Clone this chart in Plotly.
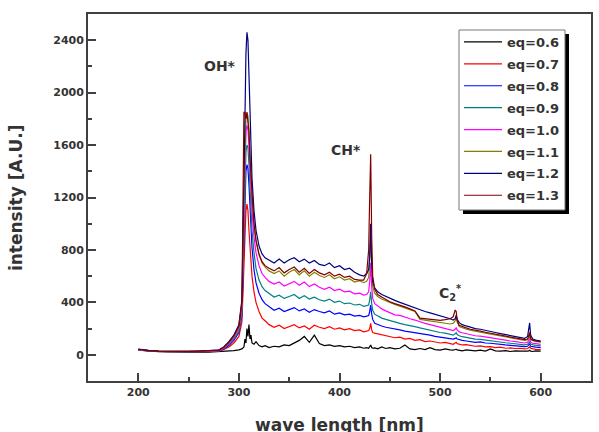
import plotly.graph_objects as go

wavelength = [200, 210, 220, 230, 240, 250, 260, 270, 280,
              285, 290, 295, 300,
              303, 305, 306, 307, 308, 309, 310, 311, 312, 313,
              315, 317, 320, 323, 326, 330,
              335, 340, 345, 350, 355, 360, 365, 370, 375, 380, 385, 390, 395, 400, 405, 410, 415, 420,
              424, 427, 429, 430, 431, 432, 433, 435, 438, 442, 446, 450,
              455, 460, 465, 470, 475, 480, 485, 490, 495, 500, 505, 510,
              513, 515, 516, 517, 519, 522, 526, 530,
              535, 540, 545, 550, 555, 560, 565, 570, 575, 580,
              584, 587, 588, 589, 590, 592, 595, 600]

eq06 = [35, 28, 24, 22, 20, 22, 20, 21, 24,
        25, 28, 32, 38,
        45, 60, 120, 90, 200, 140, 230, 120, 150, 90,
        80, 100, 70, 60, 70, 55,
        65, 60, 75, 70, 90, 110, 140, 95, 150, 85, 70, 75, 65, 70, 60, 65, 55, 60,
        50, 55, 50, 60, 75, 55, 50, 52, 45, 60, 48, 55,
        45, 50, 75, 45, 40, 48, 40, 55, 40, 35, 45, 38,
        35, 40, 42, 38, 35, 30, 38, 32,
        30, 35, 28, 45, 30, 28, 32, 25, 30, 28,
        25, 28, 30, 35, 28, 25, 30, 28]

eq07 = [38, 30, 26, 24, 22, 23, 24, 25, 28,
        40, 60, 90, 140,
        250, 700, 1000, 1100, 1150, 1100, 950, 800, 700, 600,
        480, 400, 330, 280, 260, 230,
        210, 225, 200, 215, 230, 205, 220, 195, 225, 210, 200, 215, 195, 205, 190, 200, 185, 190,
        175, 180, 185, 200, 240, 190, 170, 165, 160, 150, 145, 140,
        130, 135, 120, 125, 110, 115, 100, 105, 95, 90, 95, 85,
        80, 90, 95, 85, 80, 75, 78, 70,
        65, 68, 60, 62, 55, 58, 50, 52, 48, 50,
        45, 48, 55, 60, 50, 45, 42, 40]

eq08 = [40, 30, 27, 25, 23, 24, 25, 26, 30,
        45, 70, 110, 170,
        300, 900, 1250, 1400, 1450, 1420, 1300, 1100, 950, 820,
        650, 550, 470, 420, 390, 370,
        340, 355, 330, 345, 360, 335, 350, 325, 345, 330, 320, 335, 310, 320, 305, 310, 295, 300,
        290, 295, 300, 330, 380, 310, 270, 240, 230, 220, 210, 205,
        195, 190, 180, 175, 170, 160, 155, 150, 140, 135, 130, 125,
        120, 125, 130, 120, 115, 110, 105, 100,
        95, 98, 90, 88, 82, 80, 75, 72, 68, 66,
        62, 65, 75, 85, 65, 60, 58, 55]

eq09 = [38, 29, 26, 24, 24, 23, 25, 27, 30,
        50, 80, 120, 180,
        320, 950, 1350, 1550, 1600, 1580, 1450, 1250, 1100, 950,
        780, 660, 570, 520, 490, 465,
        440, 455, 430, 445, 460, 430, 450, 425, 440, 420, 410, 425, 400, 410, 390, 395, 380, 385,
        370, 375, 380, 420, 480, 390, 340, 310, 295, 280, 270, 260,
        250, 240, 230, 225, 215, 205, 195, 190, 180, 170, 165, 158,
        150, 160, 170, 155, 145, 138, 132, 128,
        120, 118, 112, 108, 102, 98, 92, 88, 84, 80,
        76, 80, 90, 100, 80, 75, 72, 68]

eq10 = [40, 31, 27, 25, 24, 25, 26, 28, 31,
        50, 85, 130, 200,
        350, 1000, 1450, 1700, 1750, 1720, 1600, 1400, 1250, 1100,
        900, 780, 680, 620, 590, 560,
        540, 555, 525, 545, 560, 530, 555, 520, 540, 515, 500, 515, 490, 500, 480, 485, 465, 470,
        455, 460, 480, 560, 700, 520, 430, 390, 370, 350, 335, 320,
        305, 300, 285, 275, 265, 250, 240, 230, 220, 210, 200, 195,
        185, 195, 205, 190, 175, 168, 160, 155,
        145, 142, 135, 130, 122, 118, 110, 105, 100, 95,
        90, 95, 110, 125, 95, 88, 85, 80]

eq11 = [42, 32, 28, 26, 25, 26, 27, 29, 33,
        55, 90, 140, 210,
        380, 1050, 1550, 1800, 1850, 1820, 1700, 1500, 1350, 1200,
        1000, 870, 760, 700, 670, 640,
        620, 640, 600, 630, 650, 610, 640, 600, 630, 605, 590, 610, 580, 595, 570, 580, 555, 565,
        550, 560, 590, 700, 900, 640, 520, 470, 445, 425, 410, 400,
        385, 370, 360, 345, 330, 270, 265, 255, 250, 245, 240, 235,
        240, 260, 300, 250, 215, 205, 195, 188,
        178, 172, 165, 158, 150, 142, 135, 128, 122, 115,
        110, 115, 130, 150, 115, 108, 102, 96]

eq12 = [44, 33, 29, 27, 26, 27, 29, 31, 36,
        60, 100, 150, 230,
        420, 1200, 1800, 2300, 2460, 2400, 2100, 1800, 1550, 1350,
        1100, 950, 830, 770, 740, 720,
        700, 730, 700, 725, 740, 710, 730, 700, 720, 690, 680, 700, 665, 680, 650, 660, 630, 610,
        600, 620, 650, 750, 1000, 700, 560, 510, 480, 460, 445, 430,
        415, 400, 385, 370, 355, 340, 330, 320, 310, 300, 290, 275,
        265, 275, 300, 270, 245, 230, 220, 210,
        200, 195, 185, 178, 170, 162, 155, 145, 138, 130,
        125, 140, 200, 243, 150, 120, 112, 105]

eq13 = [42, 32, 28, 26, 25, 26, 28, 30, 35,
        60, 95, 145, 220,
        400, 1850, 1850, 1800, 1850, 1780, 1700, 1500, 1350, 1200,
        1000, 870, 770, 710, 680, 660,
        640, 665, 625, 650, 670, 630, 660, 620, 650, 625, 610, 630, 600, 615, 590, 600, 575, 570,
        570, 620, 800, 1200, 1530, 900, 600, 500, 460, 440, 420, 405,
        390, 380, 365, 350, 335, 280, 275, 270, 265, 262, 268, 275,
        290, 342, 330, 260, 225, 215, 205, 195,
        185, 180, 172, 165, 157, 150, 142, 135, 128, 120,
        115, 120, 140, 170, 125, 112, 105, 100]

series_names = ["eq=0.6", "eq=0.7", "eq=0.8", "eq=0.9", "eq=1.0", "eq=1.1", "eq=1.2", "eq=1.3"]
series_values = [eq06, eq07, eq08, eq09, eq10, eq11, eq12, eq13]
series_colors = ["#000000", "#ff0000", "#0000ff", "#008080", "#ff00ff", "#808000", "#000080", "#800000"]

x_ticks = [200, 300, 400, 500, 600]
y_ticks = [0, 400, 800, 1200, 1600, 2000, 2400]

FONT = "DejaVu Sans"
AX = "#404040"

fig = go.Figure()
for name, vals, col in zip(series_names, series_values, series_colors):
    fig.add_trace(go.Scatter(x=wavelength, y=vals, mode="lines", name=name,
                             legendgroup=name,
                             line=dict(color=col, width=1.2)))

axis_common = dict(showgrid=False, zeroline=False, showline=True, linecolor=AX, linewidth=1.8,
                   mirror=True, ticks="inside", ticklen=8, tickwidth=1.5, tickcolor=AX,
                   tickfont=dict(family=FONT, size=11, color="#333333", weight="bold"))

fig.update_xaxes(range=[150, 650], tickvals=x_ticks, ticktext=[str(v) for v in x_ticks],
                 minor=dict(dtick=50, ticklen=4, tickwidth=1.5, tickcolor=AX, ticks="inside"),
                 **axis_common)
fig.update_yaxes(range=[-200, 2600], tickvals=y_ticks, ticktext=[str(v) for v in y_ticks],
                 minor=dict(dtick=200, ticklen=4, tickwidth=1.5, tickcolor=AX, ticks="inside"),
                 **axis_common)


def px_x(p):
    return (p - 88) / 503.0


def px_y(p):
    return (381 - p) / 367.0


# legend shadow and frame (drawn as shapes, legend itself transparent)
fig.add_shape(type="rect", xref="paper", yref="paper",
              x0=px_x(463), x1=px_x(569), y0=px_y(214), y1=px_y(34),
              fillcolor="black", line=dict(width=0), layer="above")
fig.add_shape(type="rect", xref="paper", yref="paper",
              x0=px_x(459), x1=px_x(565), y0=px_y(210), y1=px_y(30),
              fillcolor="white", line=dict(width=1, color="#777777"), layer="above")

ann_font = dict(family=FONT, size=14, color="#333333", weight="bold")
fig.add_annotation(x=281.6, y=2205, text="OH*", showarrow=False, font=ann_font)
fig.add_annotation(x=406, y=1559, text="CH*", showarrow=False, font=ann_font)
fig.add_annotation(x=496.5, y=471, text="C<sub>2</sub><sup>*</sup>", showarrow=False,
                   xanchor="left", font=ann_font)

title_font = dict(family=FONT, size=17, color="#333333", weight="bold")
fig.add_annotation(xref="paper", yref="paper", x=-0.144, y=0.5, xanchor="center", yanchor="middle",
                   text="intensity [A.U.]", textangle=-90, showarrow=False, font=title_font)
fig.add_annotation(xref="paper", yref="paper", x=0.5, y=-0.12, xanchor="center", yanchor="middle",
                   text="wave length [nm]", showarrow=False, font=title_font)

fig.update_layout(
    width=599, height=432,
    margin=dict(l=88, r=8, t=14, b=51, autoexpand=False),
    plot_bgcolor="white", paper_bgcolor="white",
    showlegend=True,
    legend=dict(x=px_x(459), y=px_y(27), xanchor="left", yanchor="top",
                bgcolor="rgba(0,0,0,0)", borderwidth=0,
                font=dict(family=FONT, size=13, color="#333333", weight="bold"),
                tracegroupgap=2, itemwidth=38),
)

fig.write_html("out.html")
